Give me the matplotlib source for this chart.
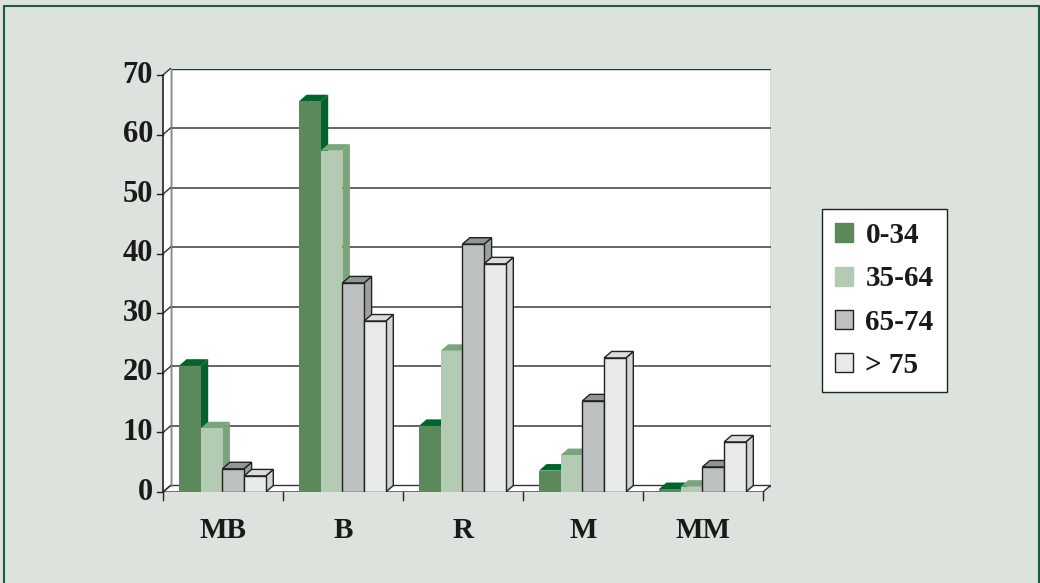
import matplotlib.pyplot as plt
import numpy as np
from matplotlib.patches import Polygon, Patch, Rectangle

categories = ["MB", "B", "R", "M", "MM"]
series = ["0-34", "35-64", "65-74", "> 75"]
v_0_34 = [21.2, 65.6, 11.1, 3.6, 0.5]
v_35_64 = [10.7, 57.3, 23.7, 6.2, 0.9]
v_65_74 = [3.9, 35.1, 41.6, 15.3, 4.2]
v_75 = [2.7, 28.7, 38.3, 22.5, 8.4]
yticks = [0, 10, 20, 30, 40, 50, 60, 70]

front = ["#5b895b", "#b3cab3", "#bdc1c1", "#e8eaea"]
top = ["#00642d", "#7aa57a", "#8f9696", "#dadddd"]
side = ["#00642d", "#7aa57a", "#9ca2a2", "#d2d5d5"]
edges = ["none", "none", "#222222", "#222222"]

bg = "#dce2dc"
fig = plt.figure(figsize=(10.4, 5.83), dpi=100, facecolor=bg)
W, H = 1040, 583

# front box 163..763 px for 5 categories, 492..75 px for 0..70, depth ~7 px
px_x = 120.0
px_y = (492 - 75) / 70.0
dx = 7.5 / px_x
dy = 6.5 / px_y
ax = fig.add_axes([163 / W, (H - 492) / H, (600 + 7.5) / W, (417 + 6.5) / H])
ax.set_xlim(0, 5 + dx)
ax.set_ylim(0, 70 + dy)
ax.set_facecolor("none")
for s in ax.spines.values():
    s.set_visible(False)
ax.set_xticks([])
ax.set_yticks([])

n = len(categories)
# back wall, left wall and floor
ax.add_patch(Polygon([(dx, dy), (n + dx, dy), (n + dx, 70 + dy), (dx, 70 + dy)],
                     closed=True, facecolor="white", edgecolor="#333333", lw=1, zorder=0))
ax.add_patch(Polygon([(0, 0), (dx, dy), (dx, 70 + dy), (0, 70)],
                     closed=True, facecolor="white", edgecolor="none", zorder=0))
ax.add_patch(Polygon([(0, 0), (n, 0), (n + dx, dy), (dx, dy)],
                     closed=True, facecolor="white", edgecolor="#333333", lw=1, zorder=0))
for t in yticks[1:-1]:
    ax.plot([dx, n + dx], [t + dy, t + dy], color="#3a3a3a", lw=1.1, zorder=1)
for t in yticks:
    ax.plot([0, dx], [t, t + dy], color="#333333", lw=1, zorder=1, clip_on=False)
    ax.plot([-6 / px_x, 0], [t, t], color="#222222", lw=1, zorder=1, clip_on=False)
    ax.text(-10 / px_x, t, str(t), ha="right", va="center", fontsize=22,
            fontweight="bold", family="Liberation Serif", color="#1a1a1a")
ax.plot([0, 0], [0, 70], color="#222222", lw=1.2, zorder=1, clip_on=False)
ax.plot([dx, dx], [dy, 70 + dy], color="#888888", lw=1, zorder=1)
for i in range(n + 1):
    ax.plot([i, i], [0, -8 / px_y], color="#222222", lw=1, zorder=1, clip_on=False)
for i, c in enumerate(categories):
    ax.text(i + 0.5, -38 / px_y, c, ha="center", va="center", fontsize=21,
            fontweight="bold", family="Liberation Serif", color="#1a1a1a")

# bars
data = [v_0_34, v_35_64, v_65_74, v_75]
w = 21.7 / px_x
off = 16 / px_x
for i in range(n):
    for j in range(len(series)):
        v = data[j][i]
        xl = i + off + j * w
        ec = edges[j]
        lw = 1 if ec != "none" else 0
        ax.add_patch(Polygon([(xl + w, 0), (xl + w + dx, dy), (xl + w + dx, v + dy), (xl + w, v)],
                             closed=True, facecolor=side[j], edgecolor=ec, lw=lw, zorder=3 + j))
        ax.add_patch(Polygon([(xl, v), (xl + w, v), (xl + w + dx, v + dy), (xl + dx, v + dy)],
                             closed=True, facecolor=top[j], edgecolor=ec, lw=lw, zorder=3 + j))
        ax.bar(xl, v, width=w, align="edge", color=front[j], edgecolor=ec, lw=lw, zorder=3 + j)

handles = [Patch(facecolor=front[j], edgecolor=("#222222" if edges[j] != "none" else front[j]), lw=1)
           for j in range(len(series))]
leg = fig.legend(handles, series, loc="upper left", bbox_to_anchor=(822 / W, 1 - 209 / H),
                 frameon=True, fancybox=False, edgecolor="#222222", facecolor="white",
                 framealpha=1,
                 prop={"family": "Liberation Serif", "weight": "bold", "size": 21},
                 handlelength=0.62, handleheight=0.62, handletextpad=0.42,
                 labelspacing=0.56, borderpad=0.45, borderaxespad=0)
leg.get_frame().set_linewidth(1)
for t in leg.get_texts():
    t.set_color("#1a1a1a")

fig.patches.append(Rectangle((4 / W, -0.05), 1 - 5 / W, 1.05 - 6 / H, transform=fig.transFigure,
                             fill=False, edgecolor="#1f5a40", lw=1.5))

fig.savefig("out.png", dpi=100, facecolor=bg)
